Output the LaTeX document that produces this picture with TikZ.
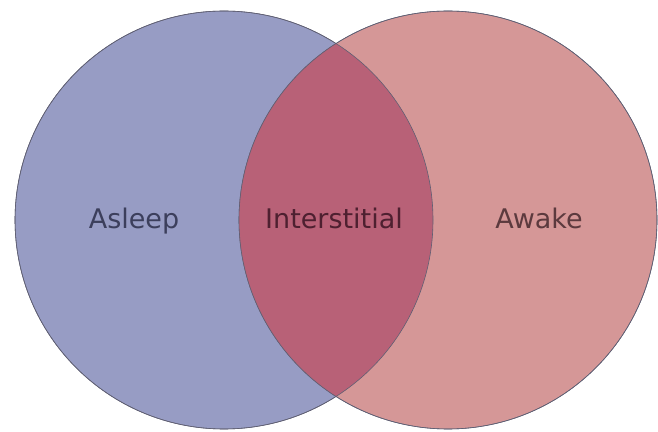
\documentclass[tikz,border=0pt]{standalone}
\usepackage{fontspec}
\setmainfont{DejaVu Sans}
\usepackage{tikz}

\definecolor{sleepblue}{RGB}{151,156,196}
\definecolor{wakered}{RGB}{213,151,151}
\definecolor{lensred}{RGB}{184,97,119}
\definecolor{rimgray}{RGB}{95,95,115}

\begin{document}
\begin{tikzpicture}[
  x=1pt, y=1pt,
  set/.style={circle, draw=rimgray, line width=0.6pt, minimum size=418pt, inner sep=0pt},
  setlabel/.style={font=\fontsize{27}{32}\selectfont, anchor=base, inner sep=0pt}
]
\useasboundingbox (0,0) rectangle (658,431);
\node[set, fill=sleepblue] (asleep) at (224,211) {};
\node[set, fill=wakered] (awake) at (448,211) {};
% overlap of the two sets
\begin{scope}
  \clip (asleep.center) circle (209pt);
  \fill[lensred] (awake.center) circle (209pt);
\end{scope}
\draw[rimgray, line width=0.6pt] (asleep.center) circle (209pt);
\draw[rimgray, line width=0.6pt] (awake.center) circle (209pt);
\node[setlabel, text={rgb,255:red,60;green,63;blue,92}] (asleeplabel) at (134,202) {Asleep};
\node[setlabel, text={rgb,255:red,78;green,32;blue,48}] (interlabel) at (334,202) {Interstitial};
\node[setlabel, text={rgb,255:red,92;green,58;blue,62}] (awakelabel) at (539,202) {Awake};
\end{tikzpicture}
\end{document}
